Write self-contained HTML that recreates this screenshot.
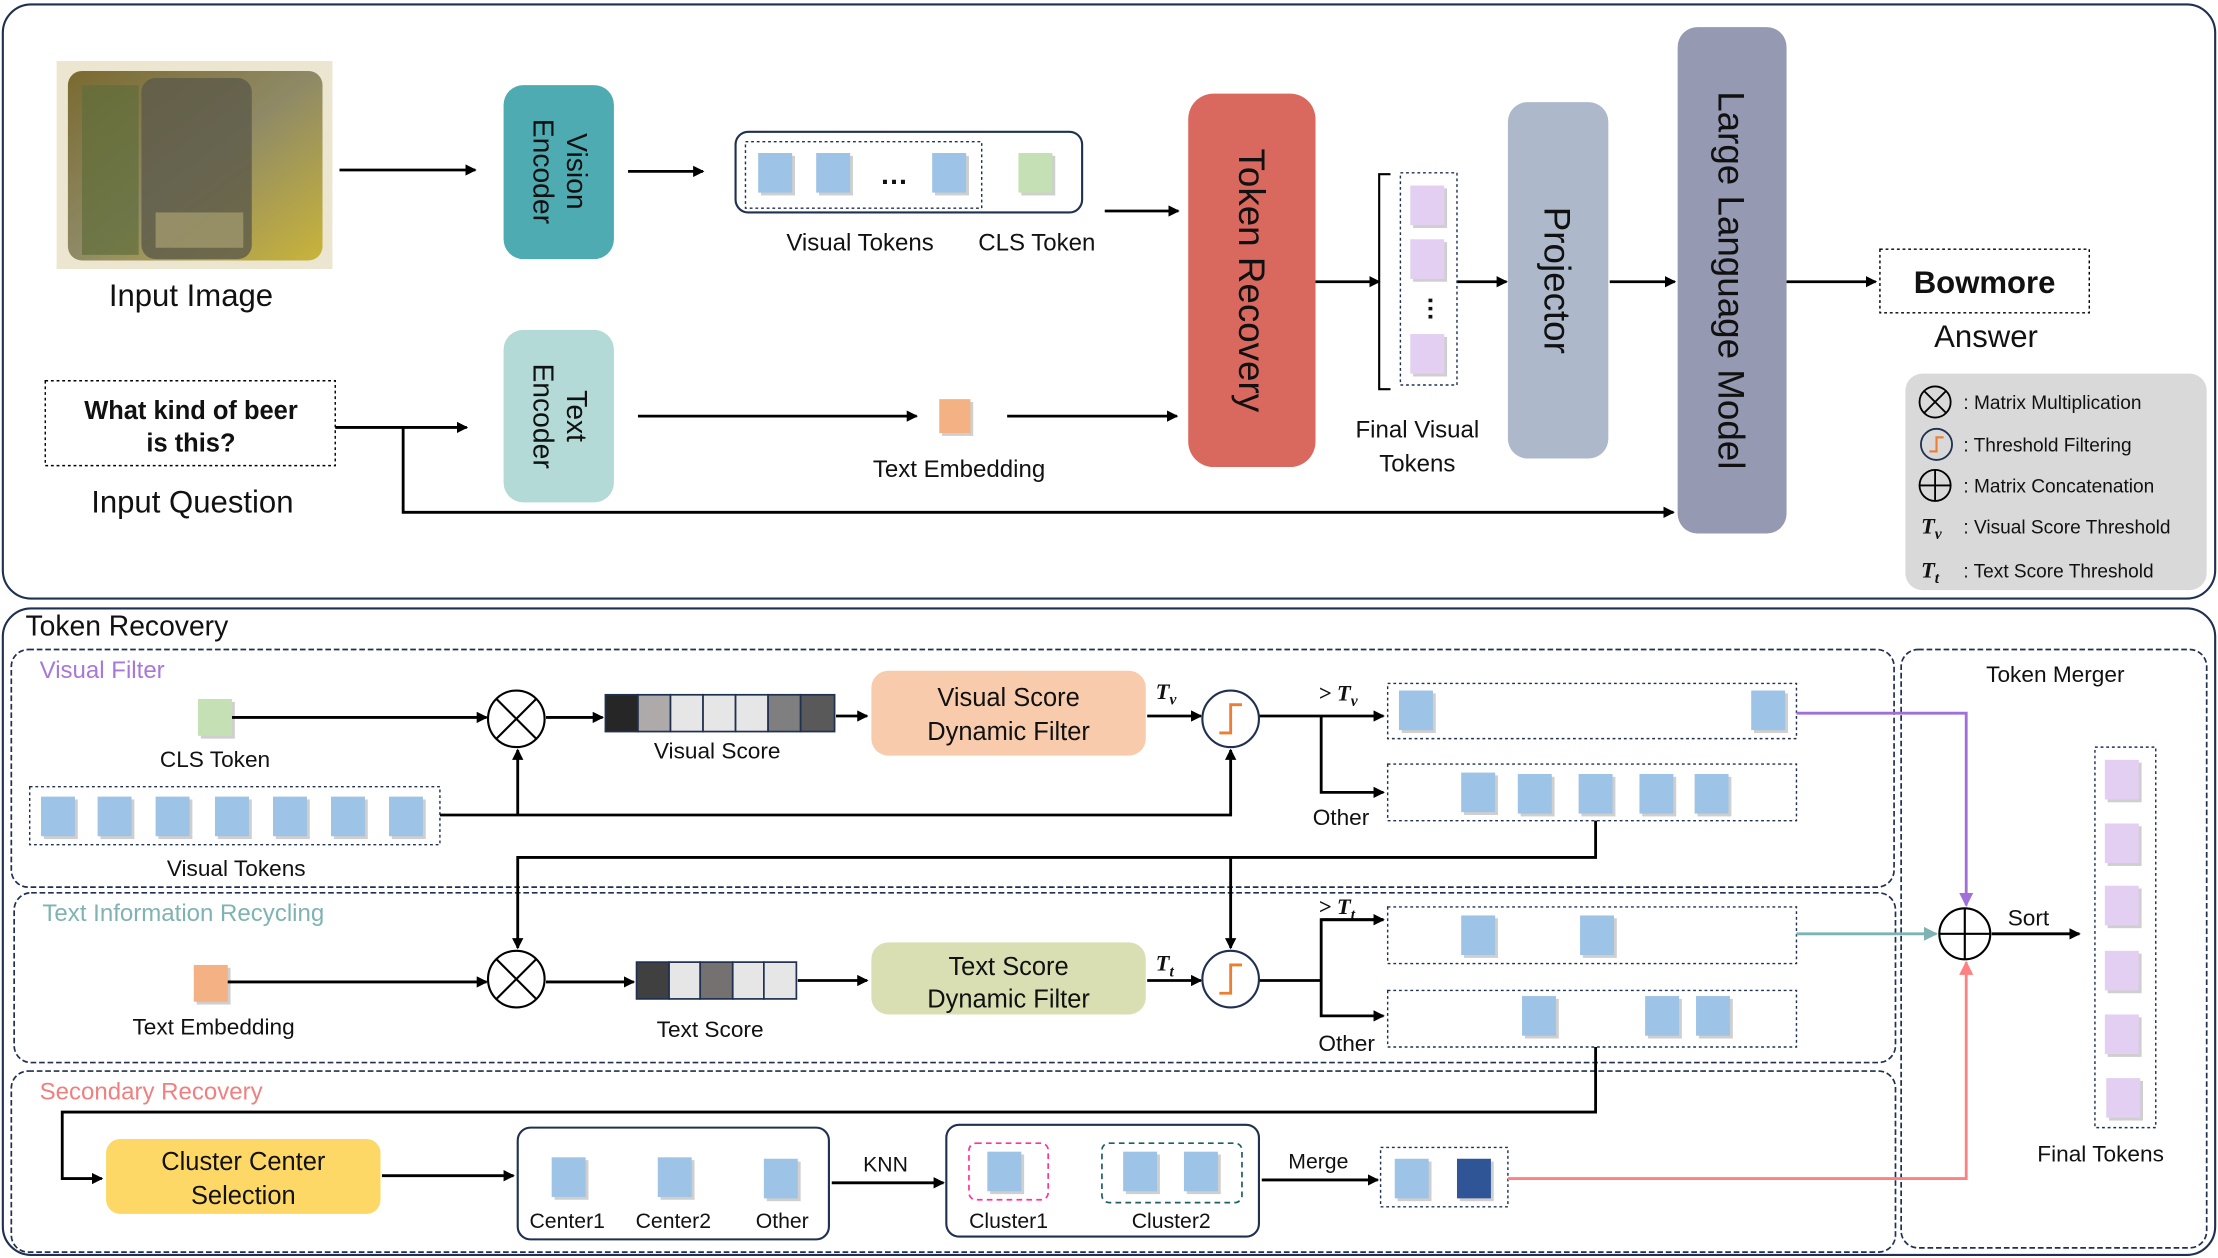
<!DOCTYPE html>
<html><head><meta charset="utf-8"><style>
html,body{margin:0;padding:0;background:#fff}
svg{display:block}
text{font-family:"Liberation Sans Narrow","Liberation Sans",sans-serif;fill:#111}
.b{font-family:"Liberation Sans",sans-serif;font-weight:bold}
.m{font-family:"Liberation Serif",serif;font-style:italic;font-weight:bold}
</style></head><body>
<svg width="2218" height="1258" viewBox="0 0 1568 889" xmlns="http://www.w3.org/2000/svg">
<defs>
<marker id="a" markerWidth="8" markerHeight="8" refX="7" refY="4" orient="auto" markerUnits="userSpaceOnUse"><path d="M0,0 L8,4 L0,8 z" fill="#000"/></marker>
<marker id="ap" markerWidth="10" markerHeight="10" refX="9" refY="5" orient="auto" markerUnits="userSpaceOnUse"><path d="M0,0 L10,5 L0,10 z" fill="#a070d8"/></marker>
<marker id="at" markerWidth="10" markerHeight="10" refX="9" refY="5" orient="auto" markerUnits="userSpaceOnUse"><path d="M0,0 L10,5 L0,10 z" fill="#7fb3b3"/></marker>
<marker id="ar" markerWidth="10" markerHeight="10" refX="9" refY="5" orient="auto" markerUnits="userSpaceOnUse"><path d="M0,0 L10,5 L0,10 z" fill="#ff8080"/></marker>
<linearGradient id="ph" x1="0" y1="0" x2="1" y2="1"><stop offset="0" stop-color="#7a6a30"/><stop offset="0.5" stop-color="#8f8a66"/><stop offset="1" stop-color="#c9b43a"/></linearGradient>
<g id="bt"><rect x="2" y="2" width="24" height="28" fill="#cfcfcf"/><rect width="24" height="28" fill="#9dc3e6"/></g>
<g id="pt"><rect x="2" y="2" width="24" height="28" fill="#cfcfcf"/><rect width="24" height="28" fill="#e2cff1"/></g>
</defs>
<g fill="none" stroke="#1f3050" stroke-width="1.5">
<rect x="2" y="3" width="1564" height="420" rx="20"/>
<rect x="2" y="430" width="1564" height="457" rx="20"/>
</g>
<!-- image -->
<rect x="40" y="43" width="195" height="147" fill="#ece6d0"/>
<rect x="48" y="50" width="180" height="134" rx="10" fill="url(#ph)"/>
<rect x="58" y="60" width="40" height="120" fill="#5f6e3a" opacity="0.7"/>
<rect x="100" y="55" width="78" height="128" rx="10" fill="#5c5a4a" opacity="0.8"/>
<rect x="110" y="150" width="62" height="25" fill="#a8a070" opacity="0.7"/>
<text x="135" y="216" font-size="22" text-anchor="middle">Input Image</text>
<line x1="240" y1="120" x2="336" y2="120" stroke="#000" stroke-width="2" marker-end="url(#a)"/>
<rect x="356" y="60" width="78" height="123" rx="14" fill="#4eabb2"/>
<text transform="translate(395,121) rotate(90)" font-size="20" text-anchor="middle"><tspan x="0" y="-6">Vision</tspan><tspan x="0" y="18">Encoder</tspan></text>
<line x1="444" y1="121" x2="497" y2="121" stroke="#000" stroke-width="2" marker-end="url(#a)"/>
<rect x="520" y="93" width="245" height="57" rx="9" fill="none" stroke="#1f3050" stroke-width="1.5"/>
<rect x="527" y="100" width="167" height="47" fill="none" stroke="#1f3050" stroke-dasharray="2,2"/>
<use href="#bt" x="536" y="108"/><use href="#bt" x="577" y="108"/><use href="#bt" x="659" y="108"/>
<text x="632" y="130" font-size="20" text-anchor="middle" class="b">…</text>
<rect x="722" y="110" width="24" height="28" fill="#cfcfcf"/><rect x="720" y="108" width="24" height="28" fill="#c5e0b4"/>
<text x="608" y="177" font-size="17" text-anchor="middle">Visual Tokens</text>
<text x="733" y="177" font-size="17" text-anchor="middle">CLS Token</text>
<line x1="781" y1="149" x2="833" y2="149" stroke="#000" stroke-width="2" marker-end="url(#a)"/>
<rect x="356" y="233" width="78" height="122" rx="14" fill="#b3dad6"/>
<text transform="translate(395,294) rotate(90)" font-size="20" text-anchor="middle"><tspan x="0" y="-6">Text</tspan><tspan x="0" y="18">Encoder</tspan></text>
<rect x="32" y="269" width="205" height="60" fill="none" stroke="#000" stroke-dasharray="2,2"/>
<text x="135" y="296" font-size="18" text-anchor="middle" class="b">What kind of beer</text>
<text x="135" y="319" font-size="18" text-anchor="middle" class="b">is this?</text>
<text x="136" y="362" font-size="22" text-anchor="middle">Input Question</text>
<g stroke="#000" stroke-width="2" fill="none">
<line x1="237" y1="302" x2="330" y2="302" marker-end="url(#a)"/>
<polyline points="285,302 285,362 1183,362" marker-end="url(#a)"/>
<line x1="451" y1="294" x2="648" y2="294" marker-end="url(#a)"/>
<line x1="712" y1="294" x2="832" y2="294" marker-end="url(#a)"/>
<line x1="930" y1="199" x2="975" y2="199" marker-end="url(#a)"/>
<line x1="1030" y1="199" x2="1065" y2="199" marker-end="url(#a)"/>
<line x1="1138" y1="199" x2="1184" y2="199" marker-end="url(#a)"/>
<line x1="1263" y1="199" x2="1326" y2="199" marker-end="url(#a)"/>
<polyline points="983,123 975,123 975,275 983,275" stroke-width="1.5"/>
</g>
<rect x="666" y="284" width="22" height="24" fill="#cfcfcf"/><rect x="664" y="282" width="22" height="24" fill="#f4b183"/>
<text x="678" y="337" font-size="17" text-anchor="middle">Text Embedding</text>
<rect x="840" y="66" width="90" height="264" rx="18" fill="#d9695f"/>
<text transform="translate(885,198) rotate(90)" font-size="26" text-anchor="middle" dy="9">Token Recovery</text>
<rect x="990" y="122" width="40" height="150" fill="none" stroke="#1f3050" stroke-dasharray="2,2"/>
<use href="#pt" x="997" y="131"/><use href="#pt" x="997" y="169"/><use href="#pt" x="997" y="236"/>
<text transform="translate(1010,218) rotate(90)" font-size="18" text-anchor="middle" class="b">…</text>
<text x="1002" y="309" font-size="17" text-anchor="middle">Final Visual</text>
<text x="1002" y="333" font-size="17" text-anchor="middle">Tokens</text>
<rect x="1066" y="72" width="71" height="252" rx="14" fill="#adb9cb"/>
<text transform="translate(1101,198) rotate(90)" font-size="26" text-anchor="middle" dy="9">Projector</text>
<rect x="1186" y="19" width="77" height="358" rx="14" fill="#9599b1"/>
<text transform="translate(1224,198) rotate(90)" font-size="26" text-anchor="middle" dy="9">Large Language Model</text>
<rect x="1329" y="176" width="148" height="45" fill="none" stroke="#000" stroke-dasharray="2,2"/>
<text x="1403" y="207" font-size="22" text-anchor="middle" class="b">Bowmore</text>
<text x="1404" y="245" font-size="22" text-anchor="middle">Answer</text>
<!-- legend -->
<rect x="1347" y="264" width="213" height="153" rx="12" fill="#d9d9d9"/>
<g stroke="#000" stroke-width="1.3" fill="none">
<circle cx="1368" cy="284" r="11"/><line x1="1360" y1="276" x2="1376" y2="292"/><line x1="1376" y1="276" x2="1360" y2="292"/>
<circle cx="1369" cy="314" r="11" stroke="#1f3050"/>
<circle cx="1368" cy="343" r="11"/><line x1="1357" y1="343" x2="1379" y2="343"/><line x1="1368" y1="332" x2="1368" y2="354"/>
</g>
<polyline points="1364,319 1369,319 1369,309 1374,309" stroke="#ed7d31" stroke-width="1.5" fill="none"/>
<g font-size="13.5">
<text x="1388" y="289">:  Matrix Multiplication</text>
<text x="1388" y="319">:  Threshold Filtering</text>
<text x="1388" y="348">:  Matrix Concatenation</text>
<text x="1388" y="377">: Visual Score Threshold</text>
<text x="1388" y="408">:  Text Score Threshold</text>
</g>
<text x="1358" y="377" font-size="16" class="m">T<tspan font-size="11" dy="4">v</tspan></text>
<text x="1358" y="408" font-size="16" class="m">T<tspan font-size="11" dy="4">t</tspan></text>
<!-- bottom -->
<text x="18" y="449" font-size="20">Token Recovery</text>
<g fill="none" stroke="#1f3050" stroke-width="1.2" stroke-dasharray="4,2">
<rect x="8" y="459" width="1331" height="168" rx="12"/>
<rect x="10" y="631" width="1330" height="120" rx="12"/>
<rect x="8" y="757" width="1332" height="128" rx="12"/>
<rect x="1344" y="459" width="216" height="423" rx="12"/>
</g>
<text x="28" y="479" font-size="17" style="fill:#a878d8">Visual Filter</text>
<text x="30" y="651" font-size="17" style="fill:#7fb3b3">Text Information Recycling</text>
<text x="28" y="777" font-size="17" style="fill:#f08080">Secondary Recovery</text>
<text x="1453" y="482" font-size="16" text-anchor="middle">Token Merger</text>
<!-- visual filter -->
<rect x="142" y="496" width="24" height="26" fill="#cfcfcf"/><rect x="140" y="494" width="24" height="26" fill="#c5e0b4"/>
<text x="152" y="542" font-size="16" text-anchor="middle">CLS Token</text>
<rect x="21" y="556" width="290" height="41" fill="none" stroke="#1f3050" stroke-dasharray="2,2"/>
<use href="#bt" x="29" y="563"/><use href="#bt" x="69" y="563"/><use href="#bt" x="110" y="563"/><use href="#bt" x="152" y="563"/><use href="#bt" x="193" y="563"/><use href="#bt" x="234" y="563"/><use href="#bt" x="275" y="563"/>
<text x="167" y="619" font-size="16" text-anchor="middle">Visual Tokens</text>
<!-- text embedding in recycling -->
<rect x="139" y="684" width="24" height="26" fill="#cfcfcf"/><rect x="137" y="682" width="24" height="26" fill="#f4b183"/>
<text x="151" y="731" font-size="16" text-anchor="middle">Text Embedding</text>
<g stroke="#1f3050" stroke-width="1.2">
<rect x="428" y="491" width="23" height="26" fill="#262626"/><rect x="451" y="491" width="23" height="26" fill="#aeaaaa"/><rect x="474" y="491" width="23" height="26" fill="#e7e6e6"/><rect x="497" y="491" width="23" height="26" fill="#e7e6e6"/><rect x="520" y="491" width="23" height="26" fill="#e7e6e6"/><rect x="543" y="491" width="23" height="26" fill="#7f7f7f"/><rect x="566" y="491" width="24" height="26" fill="#595959"/>
<rect x="450" y="680" width="23" height="26" fill="#404040"/><rect x="473" y="680" width="22" height="26" fill="#e7e6e6"/><rect x="495" y="680" width="23" height="26" fill="#767171"/><rect x="518" y="680" width="22" height="26" fill="#e7e6e6"/><rect x="540" y="680" width="23" height="26" fill="#e7e6e6"/>
</g>
<text x="507" y="536" font-size="16" text-anchor="middle">Visual Score</text>
<text x="502" y="733" font-size="16" text-anchor="middle">Text Score</text>
<rect x="616" y="474" width="194" height="60" rx="12" fill="#f8cbad"/>
<text x="713" y="499" font-size="18" text-anchor="middle">Visual Score</text>
<text x="713" y="523" font-size="18" text-anchor="middle">Dynamic Filter</text>
<rect x="616" y="666" width="194" height="51" rx="12" fill="#d9dfb3"/>
<text x="713" y="689" font-size="18" text-anchor="middle">Text Score</text>
<text x="713" y="712" font-size="18" text-anchor="middle">Dynamic Filter</text>
<text x="817" y="494" font-size="16" class="m">T<tspan font-size="11" dy="4">v</tspan></text>
<text x="817" y="686" font-size="16" class="m">T<tspan font-size="11" dy="4">t</tspan></text>
<text x="932" y="495" font-size="16" class="m">&gt; T<tspan font-size="11" dy="4">v</tspan></text>
<text x="932" y="646" font-size="16" class="m">&gt; T<tspan font-size="11" dy="4">t</tspan></text>
<g stroke="#000" stroke-width="2" fill="none">
<line x1="164" y1="507" x2="344" y2="507" marker-end="url(#a)"/>
<line x1="386" y1="507" x2="426" y2="507" marker-end="url(#a)"/>
<line x1="591" y1="506" x2="613" y2="506" marker-end="url(#a)"/>
<line x1="811" y1="506" x2="849" y2="506" marker-end="url(#a)"/>
<line x1="890" y1="506" x2="978" y2="506" marker-end="url(#a)"/>
<polyline points="934,506 934,560 978,560" marker-end="url(#a)"/>
<polyline points="311,576 870,576 870,530" marker-end="url(#a)"/>
<line x1="366" y1="576" x2="366" y2="530" marker-end="url(#a)"/>
<polyline points="1128,580 1128,606 366,606 366,670" marker-end="url(#a)"/>
<line x1="870" y1="606" x2="870" y2="670" marker-end="url(#a)"/>
<line x1="161" y1="694" x2="344" y2="694" marker-end="url(#a)"/>
<line x1="386" y1="694" x2="448" y2="694" marker-end="url(#a)"/>
<line x1="564" y1="693" x2="613" y2="693" marker-end="url(#a)"/>
<line x1="811" y1="693" x2="849" y2="693" marker-end="url(#a)"/>
<line x1="890" y1="693" x2="934" y2="693"/>
<polyline points="978,650 934,650 934,718 978,718" marker-end="url(#a)"/>
<line x1="934" y1="650" x2="978" y2="650" marker-end="url(#a)"/>
<polyline points="1128,740 1128,786 44,786 44,833 72,833" marker-end="url(#a)"/>
<line x1="270" y1="831" x2="363" y2="831" marker-end="url(#a)"/>
<line x1="588" y1="836" x2="667" y2="836" marker-end="url(#a)"/>
<line x1="892" y1="834" x2="974" y2="834" marker-end="url(#a)"/>
<line x1="1408" y1="660" x2="1470" y2="660" marker-end="url(#a)"/>
</g>
<g stroke="#000" stroke-width="1.5" fill="#fff">
<circle cx="365" cy="508" r="20"/><circle cx="365" cy="692" r="20"/><circle cx="1389" cy="660" r="18"/>
</g>
<g stroke="#000" stroke-width="1.5">
<line x1="351" y1="494" x2="379" y2="522"/><line x1="379" y1="494" x2="351" y2="522"/>
<line x1="351" y1="678" x2="379" y2="706"/><line x1="379" y1="678" x2="351" y2="706"/>
<line x1="1371" y1="660" x2="1407" y2="660"/><line x1="1389" y1="642" x2="1389" y2="678"/>
</g>
<g stroke="#1f3050" stroke-width="1.5" fill="#fff"><circle cx="870" cy="508" r="20"/><circle cx="870" cy="692" r="20"/></g>
<g stroke="#ed7d31" stroke-width="2" fill="none"><polyline points="862,518 870,518 870,498 878,498"/><polyline points="862,702 870,702 870,682 878,682"/></g>
<g fill="none" stroke="#1f3050" stroke-dasharray="2,2">
<rect x="981" y="483" width="289" height="39"/><rect x="981" y="540" width="289" height="40"/>
<rect x="981" y="641" width="289" height="40"/><rect x="981" y="700" width="289" height="40"/>
<rect x="976" y="811" width="90" height="42"/><rect x="1481" y="528" width="43" height="269"/>
</g>
<use href="#bt" x="989" y="488"/><use href="#bt" x="1238" y="488"/>
<use href="#bt" x="1033" y="546"/><use href="#bt" x="1073" y="547"/><use href="#bt" x="1116" y="547"/><use href="#bt" x="1159" y="547"/><use href="#bt" x="1198" y="547"/>
<use href="#bt" x="1033" y="647"/><use href="#bt" x="1117" y="647"/>
<use href="#bt" x="1076" y="704"/><use href="#bt" x="1163" y="704"/><use href="#bt" x="1199" y="704"/>
<text x="948" y="583" font-size="16" text-anchor="middle">Other</text>
<text x="952" y="743" font-size="16" text-anchor="middle">Other</text>
<!-- secondary -->
<rect x="75" y="805" width="194" height="53" rx="10" fill="#fdd866"/>
<text x="172" y="827" font-size="18" text-anchor="middle">Cluster Center</text>
<text x="172" y="851" font-size="18" text-anchor="middle">Selection</text>
<rect x="366" y="797" width="220" height="79" rx="9" fill="none" stroke="#1f3050" stroke-width="1.5"/>
<use href="#bt" x="390" y="818"/><use href="#bt" x="465" y="818"/><use href="#bt" x="540" y="819"/>
<text x="401" y="868" font-size="15" text-anchor="middle">Center1</text>
<text x="476" y="868" font-size="15" text-anchor="middle">Center2</text>
<text x="553" y="868" font-size="15" text-anchor="middle">Other</text>
<text x="626" y="828" font-size="15" text-anchor="middle">KNN</text>
<rect x="669" y="795" width="221" height="79" rx="9" fill="none" stroke="#1f3050" stroke-width="1.5"/>
<rect x="685" y="808" width="56" height="40" rx="5" fill="none" stroke="#ff3399" stroke-width="1.2" stroke-dasharray="4,3"/>
<rect x="779" y="808" width="99" height="42" rx="5" fill="none" stroke="#1f5f5f" stroke-width="1.2" stroke-dasharray="4,3"/>
<use href="#bt" x="698" y="814"/><use href="#bt" x="794" y="814"/><use href="#bt" x="837" y="814"/>
<text x="713" y="868" font-size="15" text-anchor="middle">Cluster1</text>
<text x="828" y="868" font-size="15" text-anchor="middle">Cluster2</text>
<text x="932" y="826" font-size="15" text-anchor="middle">Merge</text>
<use href="#bt" x="986" y="819"/>
<rect x="1032" y="821" width="24" height="28" fill="#cfcfcf"/><rect x="1030" y="819" width="24" height="28" fill="#2f5597"/>
<!-- merger -->
<polyline points="1066,833 1390,833 1390,680" fill="none" stroke="#ff8080" stroke-width="2" marker-end="url(#ar)"/>
<polyline points="1270,504 1390,504 1390,640" fill="none" stroke="#a070d8" stroke-width="2" marker-end="url(#ap)"/>
<line x1="1270" y1="660" x2="1369" y2="660" stroke="#7fb3b3" stroke-width="2" marker-end="url(#at)"/>
<text x="1434" y="654" font-size="16" text-anchor="middle">Sort</text>
<use href="#pt" x="1488" y="537"/><use href="#pt" x="1488" y="582"/><use href="#pt" x="1488" y="626"/><use href="#pt" x="1488" y="672"/><use href="#pt" x="1488" y="717"/><use href="#pt" x="1489" y="762"/>
<text x="1485" y="821" font-size="16" text-anchor="middle">Final Tokens</text>
</svg>
</body></html>
